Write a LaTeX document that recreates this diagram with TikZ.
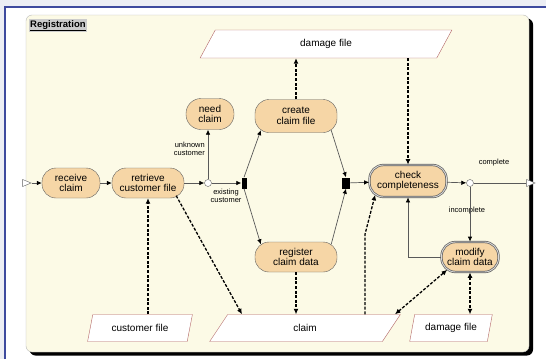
\documentclass[tikz,border=0pt]{standalone}
\usepackage{fontspec}
\setmainfont{Liberation Sans}
\usetikzlibrary{arrows.meta, positioning, shapes.geometric}

\definecolor{outergrey}{RGB}{236,238,244}
\definecolor{frameblue}{RGB}{62,74,158}
\definecolor{cream}{RGB}{252,250,230}
\definecolor{peach}{RGB}{246,214,166}
\definecolor{fileedge}{RGB}{178,100,100}

\begin{document}
\begin{tikzpicture}[
        x=1pt, y=-1pt,
        activity/.style={
            draw=gray!75!black,
            fill=peach,
            rounded corners=14pt,
            font=\fontsize{10}{10.5}\selectfont,
            align=center,
            inner sep=1pt
        },
        checked/.style={
            activity,
            line width=0.7pt,
            double=gray!30,
            double distance=0.9pt
        },
        datafile/.style={
            draw=fileedge,
            fill=white,
            trapezium,
            trapezium left angle=76,
            trapezium right angle=104,
            trapezium stretches=true,
            minimum height=27pt,
            font=\fontsize{10}{10.5}\selectfont
        },
        decision/.style={circle, draw=gray!75!black, fill=white, inner sep=0pt, minimum size=7pt},
        bar/.style={fill=black, inner sep=0pt, minimum width=5pt, minimum height=11pt},
        terminal/.style={isosceles triangle, draw=gray!75!black, fill=white, inner sep=0pt,
            minimum height=7pt, minimum width=7pt},
        guard/.style={font=\fontsize{7.5}{8}\selectfont, align=center, inner sep=1pt},
        flow/.style={draw=gray!70!black, line width=0.7pt, -{Latex[length=5pt,width=4.5pt,black]}},
        data/.style={draw=black, line width=1.3pt, dash pattern=on 3pt off 1.6pt,
            -{Latex[length=5.5pt,width=5pt]}}
    ]
        \useasboundingbox (0,0) rectangle (546,359);

        % 外框
        \fill[outergrey] (0,0) rectangle (546,359);
        \fill[white] (5,7) rectangle (546,359);
        \draw[frameblue, line width=1.2pt] (5,359) -- (5,7) -- (546,7);
        \fill[black, rounded corners=6pt] (29.5,18.5) rectangle (533,355.5);
        \fill[cream, draw=gray!55, rounded corners=6pt] (26,15) rectangle (529,352);
        \node[fill=gray!40, inner sep=1pt, anchor=north west, font=\bfseries\fontsize{9.5}{10}\selectfont]
            (title) at (29,19) {\underline{Registration}};

        % 活动
        \node[terminal] (start) at (25,183) {};
        \node[activity, minimum width=58pt, minimum height=30pt] (receive) at (71,183) {receive\\claim};
        \node[activity, minimum width=72pt, minimum height=30pt] (retrieve) at (148,183) {retrieve\\customer file};
        \node[decision] (known) at (208,183) {};
        \node[activity, minimum width=48pt, minimum height=31pt, rounded corners=15pt] (need) at (210,114) {need\\claim};
        \node[bar] (split) at (244,183) {};
        \node[activity, minimum width=82pt, minimum height=33pt] (create) at (296,116) {create\\claim file};
        \node[activity, minimum width=82pt, minimum height=30pt] (register) at (296,257) {register\\claim data};
        \node[bar, minimum width=8pt] (join) at (346,183) {};
        \node[checked, minimum width=77pt, minimum height=32pt] (check) at (408,181) {check\\completeness};
        \node[decision] (ok) at (470,183) {};
        \node[terminal] (stop) at (529,183) {};
        \node[checked, minimum width=57pt, minimum height=30pt] (modify) at (470,257) {modify\\claim data};

        % 文件
        \node[datafile, minimum width=253pt, minimum height=28pt] (damagetop) at (326,44) {damage file};
        \node[datafile, minimum width=105pt] (custfile) at (140,328) {customer file};
        \node[datafile, minimum width=191pt] (claim) at (305,328) {claim};
        \node[datafile, minimum width=83pt] (damagebot) at (451,328) {damage file};

        % 条件
        \node[guard, anchor=east, align=right] (unknown) at (206,149) {unknown\\customer};
        \node[guard] (existing) at (226,196) {existing\\customer};
        \node[guard] (complete) at (494,163) {complete};
        \node[guard] (incomplete) at (467,211) {incomplete};

        % 控制流
        \draw[flow] (start) -- (receive);
        \draw[flow] (receive) -- (retrieve);
        \draw[flow] (retrieve) -- (known);
        \draw[flow] (known) -- (known |- need.south);
        \draw[flow] (known) -- (split);
        \draw[flow] (split.north) -- ([xshift=6pt,yshift=2.5pt]create.south west);
        \draw[flow] (split.south) -- ([xshift=6pt,yshift=-2.5pt]register.north west);
        \draw[flow] ([xshift=-6pt,yshift=2.5pt]create.south east) -- (join.north);
        \draw[flow] ([xshift=-6pt,yshift=-2.5pt]register.north east) -- (join.south);
        \draw[flow] (join) -- (check);
        \draw[flow] (check) -- (ok);
        \draw[flow, -] (ok) -- (stop);
        \draw[flow] (ok) -- (modify);
        \draw[flow] (modify.west) -| (check.south);

        % 数据流
        \draw[data] (create) -- (create |- damagetop.south);
        \draw[data] (damagetop.south -| check) -- (check);
        \draw[data] (custfile.north -| retrieve) -- (retrieve);
        \draw[data] ([xshift=-8pt,yshift=2.5pt]retrieve.south east) -- ([xshift=-63pt]claim.north);
        \draw[data] (register) -- (register |- claim.north);
        \draw[data] ([xshift=60pt]claim.north) -- ++(0,-80) -- ([xshift=6pt,yshift=2.5pt]check.south west);
        \draw[data, {Latex[length=5.5pt,width=5pt]}-{Latex[length=5.5pt,width=5pt]}]
            ([xshift=90pt]claim.north) -- ([xshift=6pt,yshift=2.5pt]modify.south west);
        \draw[data, {Latex[length=5.5pt,width=5pt]}-{Latex[length=5.5pt,width=5pt]}]
            (modify) -- (modify |- damagebot.north);
    \end{tikzpicture}
\end{document}
